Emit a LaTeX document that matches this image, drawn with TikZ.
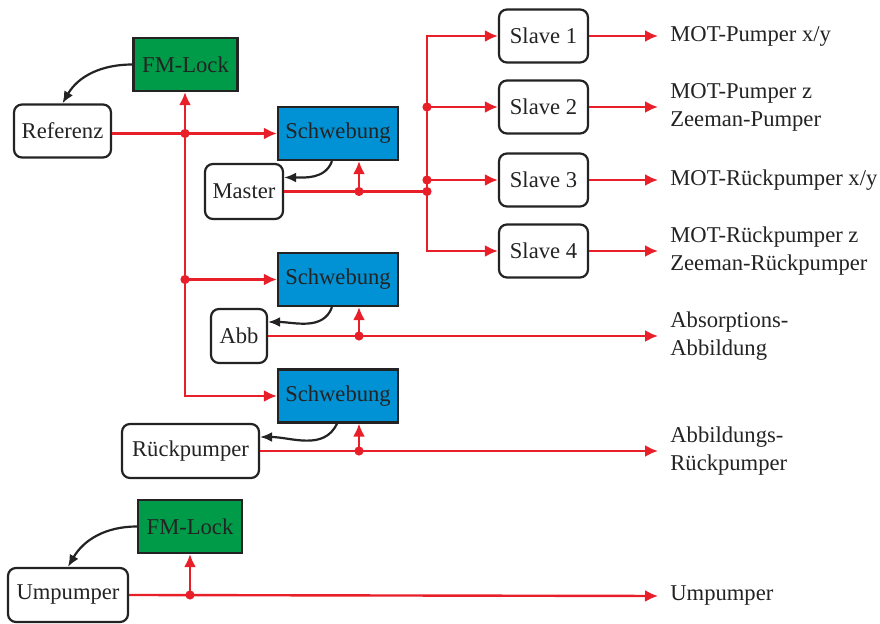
\documentclass[tikz,border=0pt]{standalone}
\usepackage{fontspec}
\setmainfont{Liberation Serif}
\usetikzlibrary{arrows.meta}
\definecolor{lred}{RGB}{232,30,40}
\definecolor{lgreen}{RGB}{0,155,72}
\definecolor{lblue}{RGB}{0,146,212}
\definecolor{dk}{RGB}{35,35,35}
\begin{document}
\begin{tikzpicture}[x=0.5pt,y=-0.5pt, font=\fontsize{11.3}{14}\selectfont, text=dk,
  rbox/.style={draw=dk, line width=1.1pt, rounded corners=4pt, fill=white, inner sep=0pt, minimum height=26.5pt},
  gbox/.style={draw=dk, line width=1.1pt, fill=lgreen, inner sep=0pt, minimum width=52pt, minimum height=26.5pt},
  bbox/.style={draw=dk, line width=1.1pt, fill=lblue, inner sep=0pt, minimum width=60pt, minimum height=26.5pt},
  lab/.style={anchor=west, align=left, inner xsep=6pt, inner ysep=0pt},
  redline/.style={draw=lred, line width=1.2pt},
  redarr/.style={draw=lred, line width=1.2pt, -{Latex[length=6.5pt,width=6pt]}},
  blkarr/.style={draw=dk, line width=1.1pt, -{Latex[length=6pt,width=5pt]}},
  jdot/.style={fill=lred}]
\useasboundingbox (0,0) rectangle (880,624);
% nodes
\node[gbox] (fm1) at (185.5,64.5) {FM-Lock};
\node[rbox, minimum width=48.5pt] (ref) at (62.5,131) {Referenz};
\node[bbox] (sch1) at (338,133.5) {Schwebung};
\node[rbox, minimum width=39pt, minimum height=27.5pt] (master) at (244,191.5) {Master};
\node[rbox, minimum width=44.5pt] (s1) at (543.5,36) {Slave 1};
\node[rbox, minimum width=44.5pt] (s2) at (543.5,107) {Slave 2};
\node[rbox, minimum width=44.5pt] (s3) at (543.5,180) {Slave 3};
\node[rbox, minimum width=44.5pt] (s4) at (543.5,251) {Slave 4};
\node[bbox] (sch2) at (338,279.5) {Schwebung};
\node[rbox, minimum width=28pt, minimum height=27pt] (abb) at (239,336) {Abb};
\node[bbox] (sch3) at (338,396) {Schwebung};
\node[rbox, minimum width=68.5pt, minimum height=27pt] (rp) at (190.5,451) {Rückpumper};
\node[gbox] (fm2) at (190,526.5) {FM-Lock};
\node[rbox, minimum width=60pt, minimum height=27pt] (ump) at (68,595) {Umpumper};
% labels
\node[lab] (l1) at (658,36) {MOT-Pumper x/y};
\node[lab] (l2) at (658,107) {MOT-Pumper z\\Zeeman-Pumper};
\node[lab] (l3) at (658,180) {MOT-Rückpumper x/y};
\node[lab] (l4) at (658,251) {MOT-Rückpumper z\\Zeeman-Rückpumper};
\node[lab] (l5) at (658,336) {Absorptions-\\Abbildung};
\node[lab] (l6) at (658,451) {Abbildungs-\\Rückpumper};
\node[lab] (l7) at (658,596) {Umpumper};
% junctions
\coordinate (j1) at (185,133.5);
\coordinate (j2) at (185,279.5);
\coordinate (jm) at (427,191.5);
\coordinate (js2) at (427,107);
\coordinate (js3) at (427,180);
\coordinate (jx1) at (359,191.5);
\coordinate (jx2) at (359,336);
\coordinate (jx3) at (359,451);
\coordinate (jx4) at (190,595);
% red connectors
\draw[redarr] (ref.east |- j1) -- (sch1.west);
\draw[redarr] (j1) -- (j1 |- fm1.south);
\draw[redarr] (j1) |- (sch3.west);
\draw[redarr] (j2) -- (sch2.west);
\draw[redline] (master.east) -- (jm);
\draw[redarr] (jx1) -- (jx1 |- sch1.south);
\draw[redarr] (jm) |- (s1.west);
\draw[redarr] (jm) |- (s4.west);
\draw[redarr] (js2) -- (s2.west);
\draw[redarr] (js3) -- (s3.west);
\draw[redarr] (s1.east) -- (l1.west);
\draw[redarr] (s2.east) -- (l2.west);
\draw[redarr] (s3.east) -- (l3.west);
\draw[redarr] (s4.east) -- (l4.west);
\draw[redarr] (abb.east) -- (l5.west);
\draw[redarr] (jx2) -- (jx2 |- sch2.south);
\draw[redarr] (rp.east) -- (l6.west);
\draw[redarr] (jx3) -- (jx3 |- sch3.south);
\draw[redarr] (ump.east) -- (l7.west);
\draw[redarr] (jx4) -- (jx4 |- fm2.south);
% dots
\foreach \p in {j1,j2,jm,js2,js3,jx1,jx2,jx3,jx4} \fill[jdot] (\p) circle (2.3pt);
% black curved arrows
\draw[blkarr] (fm1.west) to[out=180,in=60] (ref.north);
\draw[blkarr] ([xshift=-3pt]sch1.south) to[out=-110,in=0] ([yshift=7pt]master.east);
\draw[blkarr] ([xshift=-3pt]sch2.south) to[out=-110,in=0] ([yshift=7pt]abb.east);
\draw[blkarr] ([xshift=-0.5pt]sch3.south) to[out=-115,in=0] ([yshift=7pt]rp.east);
\draw[blkarr] (fm2.west) to[out=180,in=60] (ump.north);
\end{tikzpicture}
\end{document}
